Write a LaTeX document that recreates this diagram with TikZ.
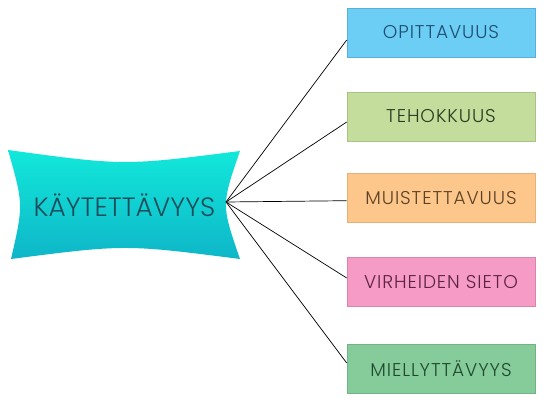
\documentclass[tikz,border=0pt]{standalone}
\usepackage{fontspec}
\setmainfont{Poppins Light}
\newfontfamily\leaffont{Poppins Light}[LetterSpace=5]
\usetikzlibrary{calc}
\definecolor{hubtop}{HTML}{12E8DA}
\definecolor{hubbot}{HTML}{0EB6C8}
\definecolor{hubtxt}{HTML}{1C4D5A}
\definecolor{fA}{HTML}{6CCDF5}\definecolor{dA}{HTML}{5AAFD8}\definecolor{tA}{HTML}{1F4E72}
\definecolor{fB}{HTML}{C4DD9C}\definecolor{dB}{HTML}{A8C484}\definecolor{tB}{HTML}{2B3A20}
\definecolor{fC}{HTML}{FDC68A}\definecolor{dC}{HTML}{E8B078}\definecolor{tC}{HTML}{5B4226}
\definecolor{fD}{HTML}{F59BC6}\definecolor{dD}{HTML}{D886AE}\definecolor{tD}{HTML}{5C2243}
\definecolor{fE}{HTML}{86CB9A}\definecolor{dE}{HTML}{6FB386}\definecolor{tE}{HTML}{1F4A30}
\tikzset{
  leafbox/.style={draw=#1, line width=0.6pt, minimum width=188pt, minimum height=49pt, inner sep=0pt,
    font=\leaffont\fontsize{18.5}{20}\selectfont},
  link/.style={draw=black, line width=0.7pt}
}
\begin{document}
\begin{tikzpicture}[x=1pt,y=-1pt]
\useasboundingbox (0,0) rectangle (544,406);
% hub shape
\path[top color=hubtop, bottom color=hubbot, draw=none]
  (8,150) .. controls (124,165.8) .. (240,151)
  .. controls (221.3,205) .. (240,259)
  .. controls (125,244.3) .. (11,259)
  .. controls (23.5,204.5) .. (8,150) -- cycle;
\node[text=hubtxt, font=\fontsize{26.5}{28}\selectfont, inner sep=0pt] (core) at (124.5,205) {KÄYTETTÄVYYS};
\coordinate (hub) at (226,202);
% leaves
\node[leafbox=dA, fill=fA, text=tA] (b1) at (441,32.5) {OPITTAVUUS};
\node[leafbox=dB, fill=fB, text=tB] (b2) at (441,116.5) {TEHOKKUUS};
\node[leafbox=dC, fill=fC, text=tC] (b3) at (441,198) {MUISTETTAVUUS};
\node[leafbox=dD, fill=fD, text=tD] (b4) at (441,282) {VIRHEIDEN SIETO};
\node[leafbox=dE, fill=fE, text=tE] (b5) at (441,368.5) {MIELLYTTÄVYYS};
% links
\draw[link] (hub) -- ($(b1.west)+(0,7.5)$);
\draw[link] (hub) -- ($(b2.west)+(0,5.5)$);
\draw[link] (hub) -- ($(b3.west)+(0,2.7)$);
\draw[link] (hub) -- ($(b4.west)+(0,-4)$);
\draw[link] (hub) -- ($(b5.west)+(0,-5.5)$);
\end{tikzpicture}
\end{document}
